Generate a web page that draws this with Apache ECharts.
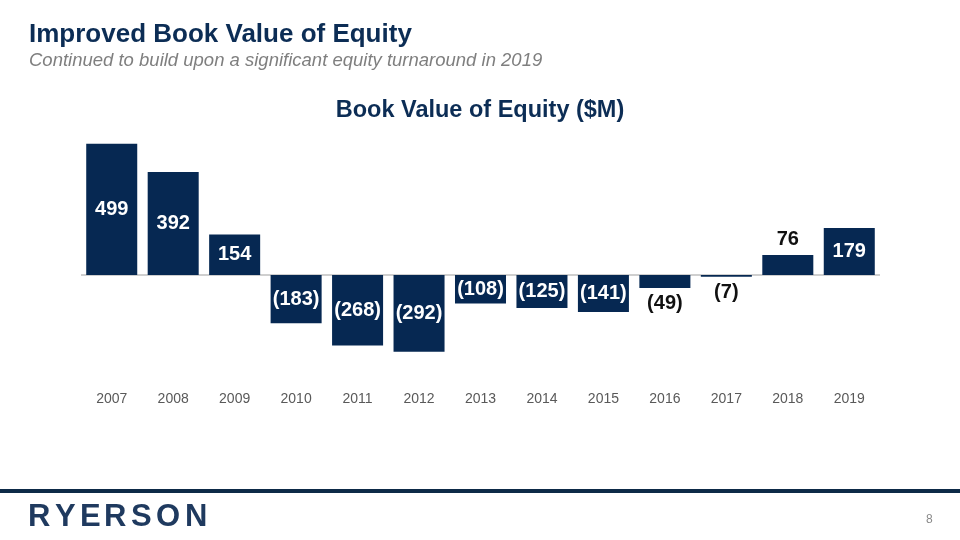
<!DOCTYPE html>
<html>
<head>
<meta charset="utf-8">
<script src="https://cdn.jsdelivr.net/npm/echarts@6/dist/echarts.min.js"></script>
<style>html,body{margin:0;padding:0;background:#fff}#c{width:960px;height:540px}</style>
</head>
<body>
<div id="c"></div>
<script>
var years = ['2007','2008','2009','2010','2011','2012','2013','2014','2015','2016','2017','2018','2019'];
var values = [499, 392, 154, -183, -268, -292, -108, -125, -141, -49, -7, 76, 179];
var valueLabels = ['499','392','154','(183)','(268)','(292)','(108)','(125)','(141)','(49)','(7)','76','179'];

var NAVY = '#062852';
var chart = echarts.init(document.getElementById('c'), null, {renderer:'canvas'});

var barData = values.map(function(v, i){
  var inside = Math.abs(v) >= 100;
  return {
    value: v,
    label: {
      show: true,
      position: inside ? 'inside' : (v >= 0 ? 'top' : 'bottom'),
      color: inside ? '#ffffff' : '#111111',
      distance: 6,
      formatter: valueLabels[i]
    }
  };
});

var logo = 'RYERSON';
var logoEls = [];
var lx = 28;
var adv = [27, 25, 24, 27, 25, 29, 26];
for (var k = 0; k < logo.length; k++) {
  logoEls.push({type:'text', left: lx, top: 502, style:{text: logo[k], fill:'#1f3a5f', font:'bold 31px "Liberation Sans", Arial, sans-serif'}});
  lx += adv[k];
}

chart.setOption({
  animation: false,
  title: [
    {text:'Improved Book Value of Equity', left: 24, top: 17, textStyle:{fontFamily:'"Liberation Sans", Arial, sans-serif', fontSize: 26, fontWeight:'bold', color:'#0c2d55'}},
    {text:'Continued to build upon a significant equity turnaround in 2019', left: 24, top: 46, textStyle:{fontFamily:'"Liberation Sans", Arial, sans-serif', fontSize: 18.5, fontStyle:'italic', fontWeight:'normal', color:'#7f7f7f'}},
    {text:'Book Value of Equity ($M)', left: 'center', top: 94, textStyle:{fontFamily:'"Liberation Sans", Arial, sans-serif', fontSize: 23.5, fontWeight:'bold', color:'#0c2d55'}}
  ],
  grid: {left: 81, right: 80, top: 143.5, height: 210.4},
  xAxis: {
    type: 'category', data: years,
    axisLine:{show:false}, axisTick:{show:false},
    axisLabel:{margin: 38, fontSize: 14, color:'#595959', fontFamily:'"Liberation Sans", Arial, sans-serif'}
  },
  yAxis: {type:'value', min:-300, max:500, show:false, splitLine:{show:false}},
  series: [{
    type:'bar', data: barData, barCategoryGap:'17%',
    itemStyle:{color: NAVY},
    label:{fontSize: 20, fontWeight:'bold', fontFamily:'"Liberation Sans", Arial, sans-serif'},
    markLine:{silent:true, symbol:'none', label:{show:false}, lineStyle:{color:'#cfcfcf', type:'solid', width:2}, data:[{yAxis:0}], z:1},
    z: 2
  }],
  graphic: [
    {type:'rect', left:0, top:489, shape:{width:960, height:4}, style:{fill:'#0d2a47'}},
    {type:'text', left: 926, top: 514, style:{text:'8', fill:'#8a8a8a', font:'12px "Liberation Sans", Arial, sans-serif'}}
  ].concat(logoEls)
});
</script>
</body>
</html>
